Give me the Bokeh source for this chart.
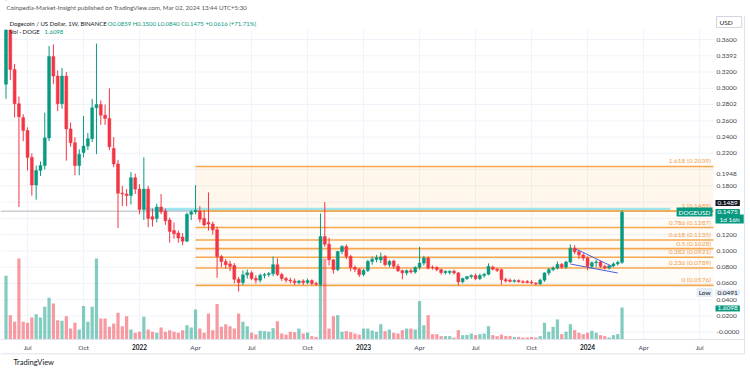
from bokeh.plotting import figure
from bokeh.models import Range1d, Label, ColumnDataSource
from bokeh.core.properties import value
from bokeh.embed import file_html
from bokeh.resources import INLINE

# ---------------- data (weekly candles, week 0 = 31 May 2021) ----------------
weeks = list(range(144))
open_ = [0.305, 0.372, 0.323, 0.281, 0.264, 0.248, 0.215, 0.181, 0.199, 0.205,
         0.239, 0.339, 0.315, 0.281, 0.315, 0.250, 0.233, 0.205, 0.221, 0.229,
         0.238, 0.276, 0.280, 0.267, 0.263, 0.226, 0.207, 0.171, 0.170, 0.168,
         0.190, 0.176, 0.151, 0.176, 0.142, 0.140, 0.154, 0.149, 0.138, 0.125,
         0.122, 0.117, 0.112, 0.145, 0.148, 0.149, 0.140, 0.135, 0.133, 0.126,
         0.093, 0.087, 0.084, 0.082, 0.065, 0.061, 0.0705, 0.073, 0.066, 0.064,
         0.070, 0.0708, 0.072, 0.083, 0.071, 0.066, 0.064, 0.063, 0.061, 0.063,
         0.061, 0.0635, 0.060, 0.059, 0.1176, 0.1083, 0.089, 0.077, 0.0993, 0.1054,
         0.0932, 0.0797, 0.0773, 0.0710, 0.076, 0.087, 0.0896, 0.0890, 0.0932, 0.083,
         0.0876, 0.081, 0.0757, 0.073, 0.0757, 0.074, 0.0797, 0.085, 0.0912, 0.0800,
         0.0797, 0.077, 0.0733, 0.0735, 0.0750, 0.0729, 0.0620, 0.066, 0.0684, 0.0697,
         0.066, 0.0697, 0.0712, 0.0800, 0.0775, 0.0769, 0.0647, 0.0640, 0.0625, 0.0635,
         0.0620, 0.0625, 0.0615, 0.0605, 0.0595, 0.0640, 0.0729, 0.0770, 0.0790, 0.0834,
         0.0800, 0.0863, 0.1034, 0.0990, 0.0950, 0.0912, 0.0810, 0.0855, 0.0865, 0.0810,
         0.0790, 0.0815, 0.0840, 0.0859]
high = [0.440, 0.385, 0.330, 0.290, 0.268, 0.252, 0.220, 0.205, 0.210, 0.270,
        0.352, 0.354, 0.322, 0.325, 0.320, 0.258, 0.240, 0.225, 0.266, 0.245,
        0.287, 0.355, 0.285, 0.280, 0.300, 0.240, 0.212, 0.180, 0.176, 0.197,
        0.195, 0.182, 0.215, 0.180, 0.152, 0.158, 0.170, 0.152, 0.141, 0.135,
        0.125, 0.122, 0.147, 0.150, 0.181, 0.155, 0.150, 0.172, 0.136, 0.130,
        0.095, 0.090, 0.088, 0.085, 0.068, 0.076, 0.077, 0.075, 0.070, 0.072,
        0.073, 0.074, 0.093, 0.091, 0.073, 0.068, 0.067, 0.066, 0.064, 0.065,
        0.066, 0.065, 0.062, 0.146, 0.160, 0.116, 0.090, 0.100, 0.107, 0.108,
        0.095, 0.082, 0.079, 0.078, 0.089, 0.093, 0.095, 0.098, 0.095, 0.089,
        0.089, 0.084, 0.077, 0.077, 0.078, 0.081, 0.105, 0.094, 0.093, 0.082,
        0.081, 0.078, 0.076, 0.076, 0.077, 0.074, 0.067, 0.069, 0.071, 0.072,
        0.072, 0.073, 0.0847, 0.082, 0.079, 0.078, 0.067, 0.066, 0.065, 0.065,
        0.064, 0.064, 0.064, 0.0615, 0.066, 0.0735, 0.079, 0.081, 0.087, 0.085,
        0.088, 0.108, 0.107, 0.101, 0.097, 0.093, 0.087, 0.089, 0.088, 0.083,
        0.083, 0.086, 0.088, 0.1500]
low = [0.287, 0.310, 0.264, 0.154, 0.235, 0.199, 0.168, 0.163, 0.192, 0.200,
       0.235, 0.305, 0.272, 0.275, 0.211, 0.228, 0.193, 0.193, 0.215, 0.224,
       0.234, 0.219, 0.255, 0.255, 0.224, 0.203, 0.128, 0.155, 0.155, 0.157,
       0.170, 0.145, 0.138, 0.129, 0.130, 0.135, 0.145, 0.132, 0.110, 0.115,
       0.110, 0.107, 0.111, 0.138, 0.145, 0.135, 0.130, 0.125, 0.120, 0.067,
       0.080, 0.078, 0.075, 0.060, 0.050, 0.058, 0.066, 0.064, 0.060, 0.061,
       0.066, 0.068, 0.069, 0.069, 0.063, 0.061, 0.060, 0.058, 0.059, 0.058,
       0.059, 0.058, 0.057, 0.057, 0.105, 0.082, 0.072, 0.075, 0.096, 0.090,
       0.075, 0.074, 0.068, 0.069, 0.074, 0.083, 0.086, 0.085, 0.081, 0.080,
       0.078, 0.074, 0.065, 0.070, 0.072, 0.072, 0.077, 0.082, 0.077, 0.077,
       0.075, 0.071, 0.071, 0.071, 0.071, 0.0576, 0.060, 0.064, 0.066, 0.064,
       0.064, 0.067, 0.070, 0.076, 0.074, 0.0586, 0.061, 0.061, 0.061, 0.061,
       0.060, 0.060, 0.059, 0.0575, 0.058, 0.062, 0.070, 0.075, 0.077, 0.078,
       0.078, 0.085, 0.096, 0.090, 0.088, 0.076, 0.078, 0.080, 0.079, 0.077,
       0.077, 0.080, 0.082, 0.0840]
close = [0.372, 0.323, 0.281, 0.265, 0.248, 0.215, 0.181, 0.199, 0.205, 0.239,
         0.339, 0.315, 0.281, 0.315, 0.250, 0.233, 0.205, 0.219, 0.229, 0.238,
         0.276, 0.280, 0.267, 0.263, 0.228, 0.207, 0.171, 0.170, 0.168, 0.190,
         0.176, 0.151, 0.176, 0.140, 0.139, 0.154, 0.148, 0.137, 0.124, 0.121,
         0.116, 0.112, 0.145, 0.148, 0.150, 0.139, 0.132, 0.133, 0.126, 0.093,
         0.087, 0.083, 0.081, 0.065, 0.061, 0.0705, 0.073, 0.066, 0.064, 0.070,
         0.0708, 0.072, 0.083, 0.071, 0.066, 0.064, 0.063, 0.061, 0.063, 0.061,
         0.0635, 0.060, 0.059, 0.1176, 0.1083, 0.089, 0.077, 0.0993, 0.1054, 0.0932,
         0.0797, 0.0773, 0.0708, 0.076, 0.087, 0.0896, 0.0916, 0.0925, 0.083, 0.087,
         0.081, 0.0757, 0.073, 0.0757, 0.074, 0.0797, 0.085, 0.0912, 0.079, 0.0795,
         0.077, 0.0733, 0.0749, 0.0749, 0.0729, 0.0619, 0.066, 0.0684, 0.0697, 0.066,
         0.0697, 0.0712, 0.081, 0.0775, 0.0760, 0.0647, 0.0630, 0.0625, 0.0635, 0.0620,
         0.0612, 0.0610, 0.0605, 0.0595, 0.0640, 0.0729, 0.0770, 0.0790, 0.0834, 0.0800,
         0.0863, 0.1034, 0.0990, 0.0950, 0.0912, 0.0810, 0.0855, 0.0865, 0.0810, 0.0790,
         0.0815, 0.0840, 0.0859, 0.1475]
volume = [3.2, 1.22, 0.89, 4.07, 0.89, 0.84, 1.11, 1.27, 1.11, 1.64,
          2.1, 1.81, 0.97, 0.94, 1.17, 0.55, 0.84, 0.50, 1.68, 0.89,
          1.64, 4.07, 1.06, 1.06, 0.64, 0.80, 1.34, 0.67, 1.17, 0.50,
          0.34, 0.39, 1.14, 0.50, 0.39, 0.34, 0.60, 0.39, 0.47, 0.39,
          0.34, 0.47, 0.72, 0.60, 1.51, 0.55, 0.34, 1.31, 0.47, 1.78,
          0.64, 0.77, 0.67, 0.55, 1.31, 0.89, 0.67, 0.34, 0.25, 0.44,
          0.42, 0.39, 0.57, 0.92, 0.30, 0.25, 0.39, 0.37, 0.55, 0.30,
          0.35, 0.17, 0.13, 4.0, 4.07, 0.55, 1.17, 1.22, 0.39, 0.42,
          0.37, 0.30, 0.25, 0.55, 0.55, 0.45, 0.39, 0.77, 0.42, 0.50,
          0.34, 0.30, 0.47, 0.55, 0.55, 0.50, 1.93, 0.72, 1.22, 0.27,
          0.27, 0.17, 0.17, 0.17, 0.10, 0.47, 0.22, 0.23, 0.30, 0.22,
          0.27, 0.30, 0.67, 0.22, 0.17, 0.25, 0.17, 0.18, 0.13, 0.13,
          0.10, 0.10, 0.13, 0.10, 0.17, 0.84, 0.39, 0.64, 1.01, 0.27,
          0.39, 0.77, 0.47, 0.34, 0.27, 0.34, 0.44, 0.34, 0.22, 0.17,
          0.10, 0.22, 0.27, 1.6098]

time_ticks = [5, 18, 31, 44, 57, 70, 83, 96, 109, 122, 135, 148, 161]
time_labels = ["Jul", "Oct", "2022", "Apr", "Jul", "Oct", "2023", "Apr", "Jul", "Oct", "2024", "Apr", "Jul"]
price_ticks = [0.36, 0.3392, 0.32, 0.30, 0.2802, 0.26, 0.24, 0.22, 0.1948, 0.18,
               0.12, 0.10, 0.08, 0.06, 0.04, 0.02, 0.0]
grid_prices = [0.02 * k for k in range(19)]

fib_levels = ["1.618", "1", "0.786", "0.618", "0.5", "0.382", "0.236", "0"]
fib_prices = [0.2039, 0.1489, 0.1287, 0.1135, 0.1028, 0.0921, 0.0789, 0.0576]
fib_start = 44.0

band_left = [32.4, 82.3]
band_right = [154.25, 131.0]
band_bottom = [0.1492, 0.0905]
band_top = [0.1530, 0.0922]

wedge_upper_x = [132.2, 140.7]
wedge_upper_y = [0.1026, 0.0809]
wedge_lower_x = [131.0, 142.0]
wedge_lower_y = [0.0839, 0.0728]

line_price = 0.1489
last_price = 0.1475
low_price = 0.0491
last_volume = 1.6098

UP = "#089981"
DOWN = "#f23645"
FONT = "Lato"
TXT = "#434651"

# ---------------- canvas layout (data units) ----------------
x_start, x_fig_end = -1.277, 172.82        # whole canvas width (750 px)
x_pane_end = 164.23                         # right edge of the price pane
y_fig_bottom, y_fig_top = -0.04957, 0.40800 # whole canvas height (372 px), price units
y_pane_bottom, y_pane_top = -0.0090, 0.3722
y_time_label = -0.0188
y_time_border = -0.0266
y_chart_top = 0.3896

p = figure(width=750, height=372, output_backend="svg", toolbar_location=None,
           x_range=Range1d(x_start, x_fig_end), y_range=Range1d(y_fig_bottom, y_fig_top),
           x_axis_location=None, y_axis_location=None, min_border=0,
           background_fill_color="white", border_fill_color="white", outline_line_color=None)
p.grid.visible = False
p.extra_y_ranges = {"vol": Range1d(-1.658, 17.035)}

# grid
p.segment(x0=time_ticks, x1=time_ticks, y0=y_pane_bottom, y1=y_chart_top, line_color="#f0f3fa", line_width=1)
p.segment(x0=x_start, x1=x_pane_end, y0=grid_prices, y1=grid_prices, line_color="#f0f3fa", line_width=1)

# fibonacci zones
p.quad(left=fib_start, right=x_pane_end, bottom=fib_prices[1], top=fib_prices[0],
       fill_color="#ff9800", fill_alpha=0.08, line_alpha=0)
p.quad(left=fib_start, right=x_pane_end, bottom=fib_prices[-1], top=fib_prices[1],
       fill_color="#ff9800", fill_alpha=0.035, line_alpha=0)

# highlight bands
p.quad(left=band_left, right=band_right, bottom=band_bottom, top=band_top,
       fill_color="#80deea", fill_alpha=[0.75, 0.5], line_alpha=0)

p.segment(x0=[x_start], x1=[x_pane_end], y0=[line_price], y1=[line_price], line_color="#b2b5be", line_width=1)

p.segment(x0=[fib_start] * len(fib_prices), x1=[x_pane_end] * len(fib_prices), y0=fib_prices, y1=fib_prices,
          line_color="#f6a84f", line_width=1.6)
p.text(x=[x_pane_end - 0.6] * len(fib_prices), y=fib_prices,
       text=[f"{lv} ({pr:.4f})" for lv, pr in zip(fib_levels, fib_prices)],
       text_align="right", text_baseline="bottom", y_offset=-2,
       text_font=value(FONT), text_font_size="6.5px", text_color="#f0a04b")

# candles and volume
colors = [UP if c >= o else DOWN for o, c in zip(open_, close)]
src = ColumnDataSource(dict(x=weeks, o=open_, h=high, l=low, c=close, vol=volume, color=colors,
                            top=[max(o, c) for o, c in zip(open_, close)],
                            bottom=[min(o, c) for o, c in zip(open_, close)]))
p.vbar(x="x", top="vol", bottom=0, width=0.75, fill_color="color", fill_alpha=0.5,
       line_alpha=0, y_range_name="vol", source=src)
p.segment(x0="x", y0="h", x1="x", y1="l", line_color="color", line_width=1, source=src)
p.vbar(x="x", top="top", bottom="bottom", width=0.68, fill_color="color", line_color="color",
       line_width=0.5, source=src)

# wedge lines
p.line(wedge_upper_x, wedge_upper_y, line_color="#4a5fd8", line_width=1)
p.line(wedge_lower_x, wedge_lower_y, line_color="#4a5fd8", line_width=1)

# cover above the visible price area (candles are cut there)
p.quad(left=x_start, right=x_fig_end, bottom=y_pane_top, top=y_fig_top,
       fill_color="white", line_alpha=0)

# borders of pane / time scale
p.segment(x0=[x_start, x_start], x1=[x_fig_end - 1.4, x_fig_end - 1.4], y0=[y_pane_bottom, y_time_border],
          y1=[y_pane_bottom, y_time_border], line_color="#e0e3eb", line_width=1)
p.segment(x0=[x_fig_end - 1.4], x1=[x_fig_end - 1.4], y0=[y_time_border], y1=[y_chart_top],
          line_color="#e0e3eb", line_width=1)

# axis labels (price scale on the right, time scale below)
p.text(x=[x_pane_end] * len(price_ticks), y=price_ticks,
       text=["-0.0000" if t == 0 else f"{t:.4f}" for t in price_ticks],
       x_offset=3, text_align="left", text_baseline="middle",
       text_font=value(FONT), text_font_size="6.5px", text_color=TXT)
months = [(t, l) for t, l in zip(time_ticks, time_labels) if not l.isdigit()]
years = [(t, l) for t, l in zip(time_ticks, time_labels) if l.isdigit()]
p.text(x=[t for t, _ in months], y=y_time_label, text=[l for _, l in months],
       text_align="center", text_baseline="middle",
       text_font=value(FONT), text_font_size="6.5px", text_color=TXT)
p.text(x=[t for t, _ in years], y=y_time_label, text=[l for _, l in years],
       text_align="center", text_baseline="middle", text_font_style="bold",
       text_font=value(FONT), text_font_size="6.5px", text_color="#131722")

# texts
def lab(**kw):
    base = dict(text_font=FONT, text_font_size="6px")
    base.update(kw)
    p.add_layout(Label(**base))

lab(text="Coinpedia-Market-Insight published on TradingView.com, Mar 02, 2024 13:44 UTC+5:30",
    x=x_start, x_offset=6, y=0.3988, text_baseline="middle", text_font_size="6.2px", text_color="#555555")
lab(text="Dogecoin / US Dollar, 1W, BINANCE", x=x_start, x_offset=9, y=0.3797,
    text_baseline="middle", text_color="#131722")
lab(text=f"O{open_[-1]:.4f}  H{high[-1]:.4f}  L{low[-1]:.4f}  C{close[-1]:.4f}  "
         f"+{close[-1] - open_[-1]:.4f} (+{(close[-1] - open_[-1]) / open_[-1] * 100:.2f}%)",
    x=x_start, x_offset=107, y=0.3797, text_baseline="middle", text_color=UP)
lab(text="Vol · DOGE", x=x_start, x_offset=9, y=0.3698, text_baseline="middle", text_color="#131722")
lab(text=f"{last_volume:.4f}", x=x_start, x_offset=44, y=0.3698, text_baseline="middle", text_color=UP)

lab(text="TradingView", x=x_start, x_offset=13, y=-0.0375, text_baseline="middle",
    text_font_size="7.5px", text_color="#131722")

# price-scale boxes
pad = dict(left=2, right=2, top=1, bottom=1)
lab(text="USD", x=x_pane_end, x_offset=3, y=0.3815, text_baseline="middle", text_color="#131722",
    text_font_size="6.5px", background_fill_color="white", border_line_color="#d1d4dc",
    padding=dict(left=3, right=9, top=2, bottom=2))
lab(text=f"{line_price:.4f}", x=x_pane_end, x_offset=2, y=0.159, text_baseline="middle", text_font_size="6.5px",
    text_color="white", background_fill_color="#131722", padding=pad)
lab(text=f"{last_price:.4f}", x=x_pane_end, x_offset=2, y=0.1478, text_baseline="middle", text_font_size="6.5px",
    text_color="white", background_fill_color=UP, padding=pad)
lab(text="DOGEUSD", x=x_pane_end, x_offset=-1, y=0.1478, text_align="right", text_baseline="middle",
    text_font_size="6.5px", text_color="white", background_fill_color=UP, padding=pad)
lab(text="1d 16h", x=x_pane_end, x_offset=2, y=0.1392, text_baseline="middle", text_font_size="6.5px",
    text_color="white", background_fill_color=UP, padding=dict(left=4, right=4, top=1, bottom=1))
lab(text="Low", x=x_pane_end, x_offset=-1, y=0.0488, text_align="right", text_baseline="middle",
    text_font_size="6.5px", text_color="#131722", background_fill_color="#e3ecf7", padding=pad)
lab(text=f"{low_price:.4f}", x=x_pane_end, x_offset=2, y=0.0488, text_baseline="middle", text_font_size="6.5px",
    text_color="#131722", background_fill_color="#e3ecf7", padding=pad)
lab(text=f"{last_volume:.4f}", x=x_pane_end, x_offset=2, y=0.0292, text_baseline="middle", text_font_size="6.5px",
    text_color="white", background_fill_color=UP, padding=pad)

open("out.html", "w").write(file_html(p, INLINE))
